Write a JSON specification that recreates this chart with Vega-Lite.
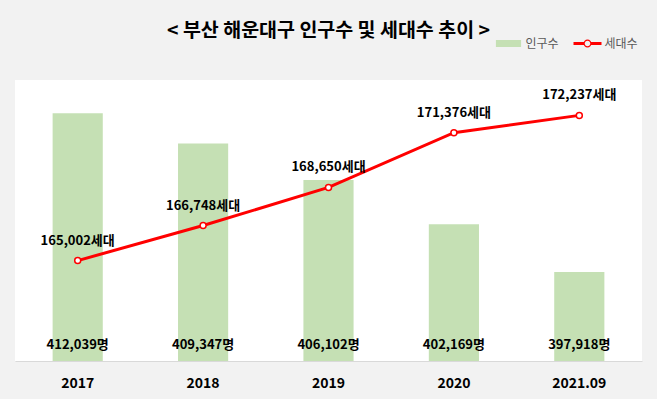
{
  "$schema": "https://vega.github.io/schema/vega-lite/v6.json",
  "width": 627,
  "height": 281,
  "autosize": {"type": "none"},
  "padding": {"left": 15, "top": 80, "right": 15, "bottom": 38},
  "background": "#f2f2f2",
  "config": {"view": {"fill": "white", "stroke": null}, "font": "Noto Sans CJK KR"},
  "title": {"text": "< 부산 해운대구 인구수 및 세대수 추이 >", "fontSize": 19.5, "fontWeight": "bold", "color": "black", "anchor": "middle", "frame": "group", "baseline": "alphabetic", "offset": 0, "dy": 27, "font": "Noto Sans CJK KR"},
  "data": {"values": [
    {"year": "2017", "population": 412039, "households": 165002},
    {"year": "2018", "population": 409347, "households": 166748},
    {"year": "2019", "population": 406102, "households": 168650},
    {"year": "2020", "population": 402169, "households": 171376},
    {"year": "2021.09", "population": 397918, "households": 172237}
  ]},
  "encoding": {
    "x": {"field": "year", "type": "nominal", "sort": null,
      "scale": {"paddingInner": 0.6, "paddingOuter": 0.3},
      "axis": {"title": null, "labelAngle": 0, "ticks": false, "domainColor": "#d9d9d9", "domainWidth": 1, "labelFontSize": 14, "labelFontWeight": "bold", "labelColor": "black", "labelPadding": 15, "labelFont": "Noto Sans CJK KR"}}
  },
  "layer": [
    {"layer": [
      {"mark": {"type": "bar"},
       "encoding": {
         "y": {"field": "population", "type": "quantitative", "scale": {"domain": [390000, 415000], "zero": false, "nice": false}, "axis": null},
         "y2": {"datum": 390000},
         "color": {"datum": "인구수", "type": "nominal",
           "scale": {"domain": ["인구수", "세대수"], "range": ["#c5e0b4", "#ff0000"]},
           "legend": {"title": null, "orient": "none", "legendX": 479.5, "legendY": -50.5, "direction": "horizontal", "padding": 0, "labelFontSize": 12, "labelColor": "#595959", "labelFont": "Noto Sans CJK KR", "symbolSize": 784, "labelOffset": 3, "columnPadding": 14,
             "encode": {"symbols": {"update": {
               "shape": {"signal": "datum.value === '인구수' ? 'M-0.9,-0.25H0.9V0.25H-0.9Z' : 'M-1,-0.107H-0.27V0.107H-1ZM0.27,-0.107H1V0.107H0.27ZM-0.286,0A0.286,0.286 0 1,1 0.286,0A0.286,0.286 0 1,1 -0.286,0ZM-0.2,0A0.2,0.2 0 1,0 0.2,0A0.2,0.2 0 1,0 -0.2,0Z'"},
               "fill": {"signal": "datum.value === '인구수' ? '#c5e0b4' : '#ff0000'"},
               "stroke": {"value": "transparent"},
               "strokeWidth": {"value": 0},
               "opacity": {"value": 1},
               "fillOpacity": {"value": 1}
             }}}}}
       }},
      {"transform": [{"calculate": "format(datum.population, ',') + '명'", "as": "popLabel"}],
       "mark": {"type": "text", "fontSize": 13, "fontWeight": "bold", "dy": -16, "color": "black", "baseline": "middle"},
       "encoding": {
         "y": {"datum": 390000, "type": "quantitative", "axis": null},
         "text": {"field": "popLabel"}
       }}
    ]},
    {"layer": [
      {"mark": {"type": "line", "strokeWidth": 3},
       "encoding": {
         "y": {"field": "households", "type": "quantitative", "scale": {"domain": [160000, 174000], "zero": false, "nice": false}, "axis": null},
         "color": {"datum": "세대수", "type": "nominal"}
       }},
      {"mark": {"type": "point", "filled": true, "fill": "white", "stroke": "#ff0000", "strokeWidth": 1.5, "size": 36, "opacity": 1},
       "encoding": {
         "y": {"field": "households", "type": "quantitative", "axis": null}
       }},
      {"transform": [{"calculate": "format(datum.households, ',') + '세대'", "as": "hhLabel"}],
       "mark": {"type": "text", "fontSize": 13, "fontWeight": "bold", "dy": -20, "color": "black", "baseline": "middle"},
       "encoding": {
         "y": {"field": "households", "type": "quantitative", "axis": null},
         "text": {"field": "hhLabel"}
       }}
    ]}
  ],
  "resolve": {"scale": {"y": "independent"}}
}
